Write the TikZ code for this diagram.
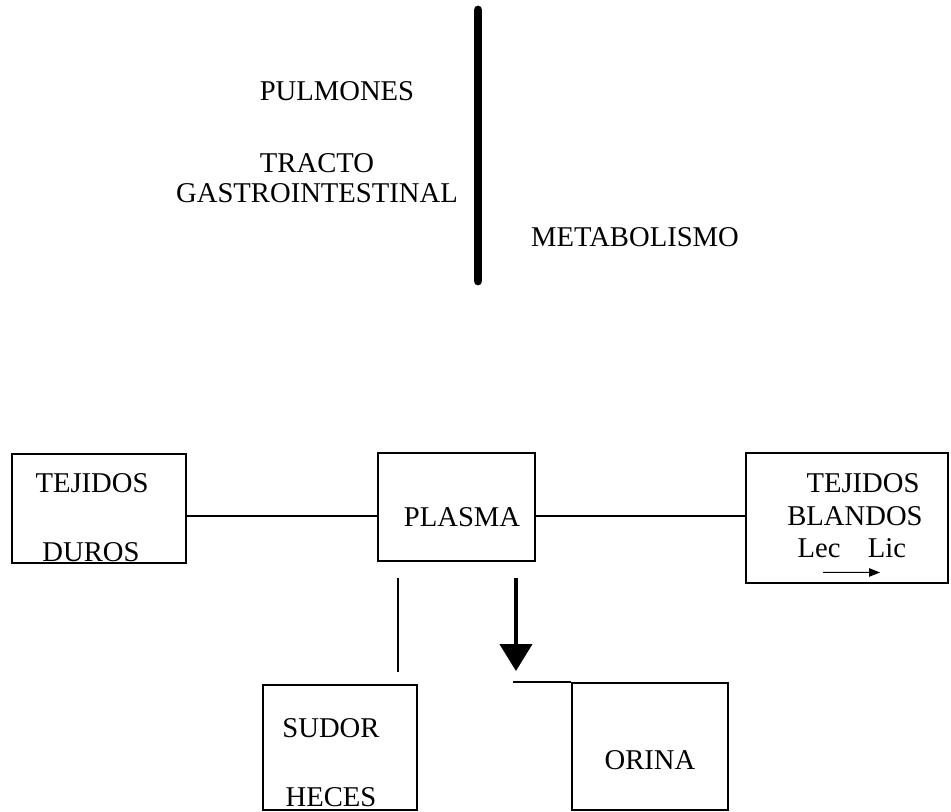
\documentclass[tikz,border=0pt]{standalone}
\usepackage{fontspec}
\setmainfont{Liberation Serif}
\usetikzlibrary{arrows.meta}

\begin{document}
\begin{tikzpicture}[
  x = 0.02cm, y = -0.02cm,
  caja/.style={rectangle, draw, line width=1.1pt, inner sep=0pt},
  texto/.style={font=\fontsize{16.3}{17}\selectfont, inner sep=0pt},
  linea/.style={draw, line width=1.1pt},
  flecha/.style={draw, line width=2.4pt, -{Triangle[width=0.64cm,length=0.54cm]}},
  flechita/.style={draw, line width=0.6pt, -{Triangle[width=0.17cm,length=0.22cm]}}
  ]
\useasboundingbox (0,0) rectangle (951,812);

% parte de arriba
\coordinate (barra_a) at (478,10);
\coordinate (barra_b) at (478,281);
\path [draw, line width=5pt, line cap=round] (barra_a) -- (barra_b);
\node [texto] (pulmones) at (337,91) {PULMONES};
\node [texto, align=center] (tracto) at (317,178) {TRACTO\\GASTROINTESTINAL};
\node [texto] (metab) at (635,237) {METABOLISMO};

% cajas
\node [caja, minimum width=3.48cm, minimum height=2.18cm] (duros) at (99,508.5) {};
\node [texto] (duros_a) at (92,483) {TEJIDOS};
\node [texto] (duros_b) at (91,552) {DUROS};

\node [caja, minimum width=3.14cm, minimum height=2.16cm] (plasma) at (456.5,507) {};
\node [texto] (plasma_t) at (462,517) {PLASMA};

\node [caja, minimum width=4.04cm, minimum height=2.6cm] (blandos) at (847,518) {};
\node [texto] (blandos_a) at (863,483) {TEJIDOS};
\node [texto] (blandos_b) at (855,516) {BLANDOS};
\node [texto] (lec) at (819,548) {Lec};
\node [texto] (lic) at (887,548) {Lic};

\node [caja, minimum width=3.08cm, minimum height=2.5cm] (sudor) at (340,747.5) {};
\node [texto] (sudor_a) at (331,728) {SUDOR};
\node [texto] (sudor_b) at (331,797) {HECES};

\node [caja, minimum width=3.12cm, minimum height=2.54cm] (orina) at (650,746.5) {};
\node [texto] (orina_t) at (650,760) {ORINA};

% uniones
\coordinate (salida_a) at ([xshift=0.42cm,yshift=-0.32cm]plasma.south west);
\coordinate (salida_b) at ([xshift=-0.4cm,yshift=-0.32cm]plasma.south east);
\coordinate (codo) at ([xshift=-1.16cm]orina.north west);
\path [linea] ([yshift=-0.15cm]duros.east) -- ([yshift=-0.18cm]plasma.west);
\path [linea] ([yshift=-0.18cm]plasma.east) -- ([yshift=0.04cm]blandos.west);
\path [linea, shorten >=0.24cm] (salida_a) -- (salida_a |- sudor.north);
\path [flecha, shorten >=0.22cm] (salida_b) -- (salida_b |- codo);
\path [linea] (codo) -- (orina.north west);
\path [flechita] ([xshift=0.08cm,yshift=-0.29cm]lec.south) -- ([xshift=-0.14cm,yshift=-0.29cm]lic.south);
\end{tikzpicture}
\end{document}
